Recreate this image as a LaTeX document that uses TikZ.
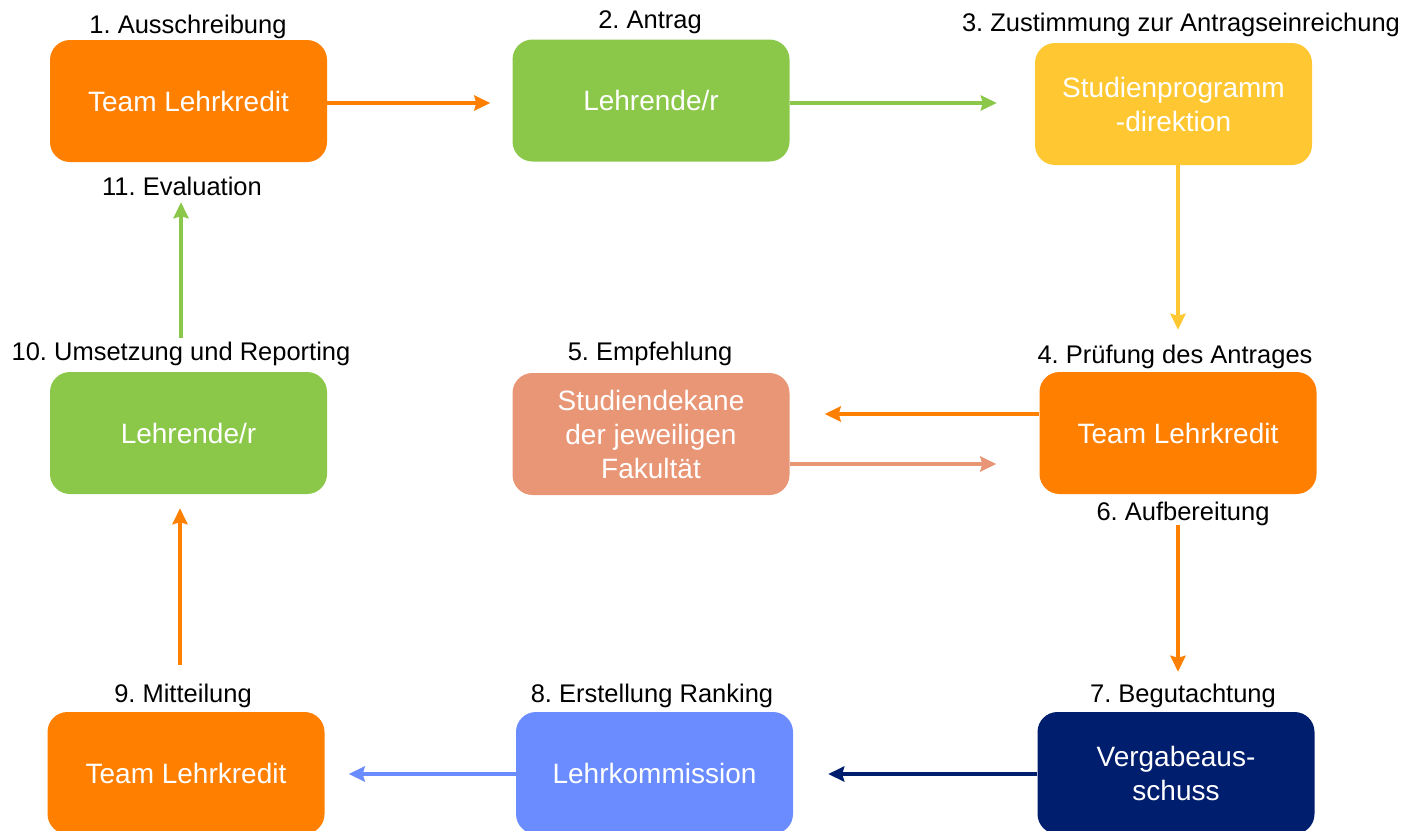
\documentclass[tikz,border=0pt]{standalone}
\usepackage{fontspec}
\setmainfont{Liberation Sans}
\usetikzlibrary{arrows.meta}
\frenchspacing
\definecolor{lkorange}{RGB}{255,127,0}
\definecolor{lkgreen}{RGB}{139,200,74}
\definecolor{lkyellow}{RGB}{255,200,50}
\definecolor{lksalmon}{RGB}{232,150,118}
\definecolor{lkblue}{RGB}{107,140,255}
\definecolor{lknavy}{RGB}{0,30,110}
\begin{document}
\begin{tikzpicture}[x=1pt,y=-1pt,
	box/.style={rounded corners=20pt,minimum width=277pt,minimum height=122pt,text=white,align=center,font=\fontsize{28}{34}\selectfont,inner sep=0pt},
	lbl/.style={font=\fontsize{25.5}{30}\selectfont,inner sep=0pt},
	flow/.style={line width=3.5pt,-{Stealth[length=16pt,width=15pt,inset=2pt]}}]
	\useasboundingbox (0,0) rectangle (1424,830);
	% boxes
	\node[box,fill=lkorange] (tl1) at (188.5,101) {Team Lehrkredit};
	\node[box,fill=lkgreen] (lr1) at (651,100.5) {Lehrende/r};
	\node[box,fill=lkyellow] (spd) at (1173.5,104) {Studienprogramm\\-direktion};
	\node[box,fill=lkorange] (tl2) at (1178,433) {Team Lehrkredit};
	\node[box,fill=lksalmon] (sdk) at (651,434) {Studiendekane\\der jeweiligen\\Fakultät};
	\node[box,fill=lkgreen] (lr2) at (188.5,433) {Lehrende/r};
	\node[box,fill=lkorange] (tl3) at (186,773) {Team Lehrkredit};
	\node[box,fill=lkblue] (lko) at (654.5,773) {Lehrkommission};
	\node[box,fill=lknavy] (vga) at (1176,773) {Vergabeaus-\\schuss};
	% steps
	\node[lbl] (s1) at (188,27) {1. Ausschreibung};
	\node[lbl] (s2) at (650,22) {2. Antrag};
	\node[lbl] (s3) at (1181,25) {3. Zustimmung zur Antragseinreichung};
	\node[lbl] (s4) at (1175,357) {4. Prüfung des Antrages};
	\node[lbl] (s5) at (650,354) {5. Empfehlung};
	\node[lbl] (s6) at (1183,514) {6. Aufbereitung};
	\node[lbl] (s7) at (1183,696) {7. Begutachtung};
	\node[lbl] (s8) at (652,696) {8. Erstellung Ranking};
	\node[lbl] (s9) at (183,696) {9. Mitteilung};
	\node[lbl] (s10) at (181,354) {10. Umsetzung und Reporting};
	\node[lbl] (s11) at (182,186) {11. Evaluation};
	% arrows
	\draw[flow,lkorange,shorten >=22pt] ([yshift=-2pt]tl1.east) -- ([yshift=-2pt]tl1.east -| lr1.west);
	\draw[flow,lkgreen,shorten >=38pt] ([yshift=-2.5pt]lr1.east) -- ([yshift=-2.5pt]lr1.east -| spd.west);
	\draw[flow,lkyellow,shorten >=42pt] ([xshift=4.5pt]spd.south) -- ([xshift=4.5pt]spd.south |- tl2.north);
	\draw[flow,lkorange,shorten >=35pt] ([yshift=19pt]tl2.west) -- ([yshift=19pt]tl2.west -| sdk.east);
	\draw[flow,lksalmon,shorten >=43pt] ([yshift=-30pt]sdk.east) -- ([yshift=-30pt]sdk.east -| tl2.west);
	\draw[flow,lkorange,shorten <=31pt,shorten >=40pt] (tl2.south) -- (tl2.south |- vga.north);
	\draw[flow,lknavy,shorten >=35pt] ([yshift=-1pt]vga.west) -- ([yshift=-1pt]vga.west -| lko.east);
	\draw[flow,lkblue,shorten >=24pt] ([yshift=-1pt]lko.west) -- ([yshift=-1pt]lko.west -| tl3.east);
	\draw[flow,lkorange,shorten <=47pt,shorten >=14pt] ([xshift=-6pt]tl3.north) -- ([xshift=-6pt]tl3.north |- lr2.south);
	\draw[flow,lkgreen,shorten <=34pt,shorten >=40pt] ([xshift=-7.5pt]lr2.north) -- ([xshift=-7.5pt]lr2.north |- tl1.south);
\end{tikzpicture}
\end{document}
